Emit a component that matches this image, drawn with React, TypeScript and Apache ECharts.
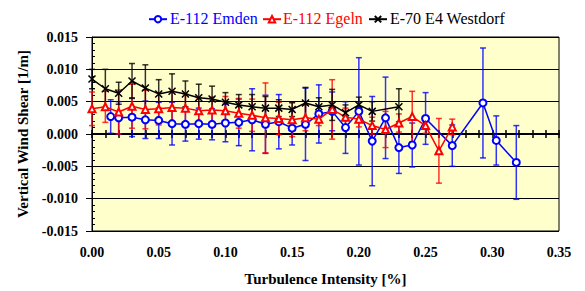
import React, { useEffect, useRef } from "react";
import * as echarts from "echarts";

const xTicks = [0, 0.05, 0.1, 0.15, 0.2, 0.25, 0.3, 0.35];
const yTicks = [-0.015, -0.01, -0.005, 0, 0.005, 0.01, 0.015];

const seriesNames = ["E-112 Emden", "E-112 Egeln", "E-70 E4 Westdorf"];

const emdenX = [0.014, 0.02, 0.03, 0.04, 0.05, 0.06, 0.07, 0.08, 0.09, 0.1, 0.11, 0.12, 0.13, 0.14, 0.15, 0.16, 0.17, 0.18, 0.19, 0.2, 0.21, 0.22, 0.23, 0.24, 0.25, 0.27, 0.293, 0.303, 0.318];
const emdenY = [0.0027, 0.0025, 0.0026, 0.0022, 0.0021, 0.0016, 0.0015, 0.0016, 0.0015, 0.0017, 0.0018, 0.0022, 0.0015, 0.0019, 0.0009, 0.0015, 0.0031, 0.0035, 0.001, 0.0035, -0.0011, 0.0025, -0.0021, -0.0017, 0.0024, -0.0018, 0.0048, -0.001, -0.0044];
const emdenErr = [0.0026, 0.0025, 0.003, 0.0029, 0.0028, 0.0033, 0.0026, 0.0024, 0.0024, 0.0029, 0.0036, 0.0048, 0.0045, 0.0042, 0.0026, 0.0056, 0.0045, 0.003, 0.004, 0.0083, 0.0069, 0.0063, 0.004, 0.0034, 0.004, 0.0032, 0.0085, 0.0038, 0.0057];

const egelnX = [0, 0.01, 0.02, 0.03, 0.04, 0.05, 0.06, 0.07, 0.08, 0.09, 0.1, 0.11, 0.12, 0.13, 0.14, 0.15, 0.16, 0.17, 0.18, 0.19, 0.2, 0.21, 0.22, 0.23, 0.24, 0.25, 0.26, 0.27];
const egelnY = [0.0039, 0.0042, 0.0034, 0.0043, 0.0038, 0.0039, 0.0041, 0.004, 0.0036, 0.0037, 0.0036, 0.0032, 0.0029, 0.0025, 0.0024, 0.0022, 0.0025, 0.0023, 0.0038, 0.0026, 0.0023, 0.0013, 0.0007, 0.0017, 0.0027, 0.0013, -0.0026, 0.0011];
const egelnErr = [0.0026, 0.0024, 0.0034, 0.0034, 0.003, 0.0025, 0.0025, 0.0022, 0.002, 0.002, 0.0022, 0.0023, 0.0025, 0.0054, 0.0025, 0.0026, 0.002, 0.001, 0.0046, 0.0014, 0.0012, 0.0013, 0.0028, 0.0014, 0.0039, 0.0012, 0.005, 0.0012];

const westdorfX = [0, 0.01, 0.02, 0.03, 0.04, 0.05, 0.06, 0.07, 0.08, 0.09, 0.1, 0.11, 0.12, 0.13, 0.14, 0.15, 0.16, 0.17, 0.18, 0.19, 0.2, 0.21, 0.23];
const westdorfY = [0.0085, 0.007, 0.0063, 0.0082, 0.0071, 0.0062, 0.0066, 0.0062, 0.0056, 0.0054, 0.0049, 0.0045, 0.0042, 0.004, 0.004, 0.0038, 0.0048, 0.0042, 0.0045, 0.0033, 0.0045, 0.0035, 0.0042];
const westdorfErr = [0.0015, 0.003, 0.0017, 0.0027, 0.0036, 0.0022, 0.0027, 0.002, 0.0021, 0.002, 0.0015, 0.0016, 0.0019, 0.0018, 0.0013, 0.0011, 0.0024, 0.0014, 0.0024, 0.0012, 0.0012, 0.0015, 0.0028];

const FONT = "Liberation Serif";

function pairs(xs: number[], ys: number[]) {
  return xs.map((x, i) => [x, ys[i]]);
}

function errorSeries(id: string, xs: number[], ys: number[], errs: number[], color: string) {
  return {
    type: "custom",
    id,
    silent: true,
    xAxisIndex: 0,
    yAxisIndex: 0,
    z: 2,
    data: xs.map((x, i) => [x, ys[i] - errs[i], ys[i] + errs[i]]),
    encode: { x: 0, y: [1, 2] },
    renderItem: (params: any, api: any) => {
      const lo = api.coord([api.value(0), api.value(1)]);
      const hi = api.coord([api.value(0), api.value(2)]);
      const w = 3;
      const style = { stroke: color, lineWidth: 1.5, opacity: 0.8 };
      return {
        type: "group",
        children: [
          { type: "line", shape: { x1: hi[0], y1: hi[1], x2: lo[0], y2: lo[1] }, style },
          { type: "line", shape: { x1: hi[0] - w, y1: hi[1], x2: hi[0] + w, y2: hi[1] }, style },
          { type: "line", shape: { x1: lo[0] - w, y1: lo[1], x2: lo[0] + w, y2: lo[1] }, style },
        ],
      };
    },
  };
}

export default function App() {
  const ref = useRef<HTMLDivElement>(null);
  useEffect(() => {
    document.body.style.margin = "0";
    if (!ref.current) return;
    const chart = echarts.init(ref.current, null, { renderer: "svg" });
    const axisCommon = {
      type: "value",
      min: 0,
      max: 0.35,
      interval: 0.05,
      splitLine: { show: false },
    };
    const makeLegend = (name: string, left: number) => ({
      top: 15,
      left,
      itemWidth: 18,
      itemHeight: 8,
      padding: 0,
      formatter: () => "",
      data: [name],
    });
    const legendLabel = (text: string, left: number, color: string) => ({
      type: "text",
      left,
      top: 10,
      silent: true,
      style: { text, fill: color, font: `16px ${FONT}`, fontFamily: FONT, fontSize: 16 },
    });
    chart.setOption({
      animation: false,
      textStyle: { fontFamily: FONT },
      grid: {
        left: 92,
        right: 26,
        top: 37,
        bottom: 60,
        show: true,
        backgroundColor: "#FFFFCC",
        borderColor: "#000",
        borderWidth: 1,
      },
      legend: [
        makeLegend(seriesNames[0], 148),
        makeLegend(seriesNames[1], 262),
        makeLegend(seriesNames[2], 368),
      ],
      graphic: [
        legendLabel(seriesNames[0], 170, "#0000FF"),
        legendLabel(seriesNames[1], 283, "#FF0000"),
        legendLabel(seriesNames[2], 390, "#000000"),
      ],
      xAxis: [
        {
          ...axisCommon,
          position: "bottom",
          axisLine: { show: false, onZero: false },
          axisTick: { show: false },
          axisLabel: {
            formatter: (v: number) => v.toFixed(2),
            fontFamily: FONT,
            fontWeight: "bold",
            fontSize: 14,
            color: "#000",
            margin: 14,
          },
          name: "Turbulence Intensity [%]",
          nameLocation: "middle",
          nameGap: 40,
          nameTextStyle: { fontFamily: FONT, fontWeight: "bold", fontSize: 15, color: "#000" },
        },
        {
          ...axisCommon,
          axisLine: { show: true, onZero: true, lineStyle: { color: "#000", width: 2 } },
          axisTick: { show: true, inside: false, length: 4, lineStyle: { color: "#000", width: 1.5 } },
          minorTick: { show: true, splitNumber: 5, length: 4, lineStyle: { color: "#000", width: 1.5 } },
          axisLabel: { show: false },
        },
        {
          ...axisCommon,
          axisLine: { show: false, onZero: true },
          axisTick: { show: true, inside: true, length: 4, lineStyle: { color: "#000", width: 1.5 } },
          minorTick: { show: true, splitNumber: 5, length: 4, lineStyle: { color: "#000", width: 1.5 } },
          axisLabel: { show: false },
        },
      ],
      yAxis: [
        {
          type: "value",
          min: -0.015,
          max: 0.015,
          interval: 0.005,
          axisLine: { show: true, onZero: false, lineStyle: { color: "#000", width: 1 } },
          axisTick: { show: true, inside: false, length: 6, lineStyle: { color: "#000" } },
          splitLine: { show: true, lineStyle: { color: "#000", width: 1 } },
          axisLabel: {
            formatter: (v: number) => v.toFixed(3),
            fontFamily: FONT,
            fontWeight: "bold",
            fontSize: 14,
            color: "#000",
            margin: 14,
          },
          name: "Vertical Wind Shear [1/m]",
          nameLocation: "middle",
          nameGap: 62,
          nameTextStyle: { fontFamily: FONT, fontWeight: "bold", fontSize: 15, color: "#000" },
        },
        {
          type: "value",
          min: -0.015,
          max: 0.015,
          interval: 0.005,
          position: "left",
          axisLine: { show: false, onZero: false },
          axisTick: { show: true, inside: true, length: 3, lineStyle: { color: "#000" } },
          minorTick: { show: true, splitNumber: 5, length: 3, lineStyle: { color: "#000" } },
          splitLine: { show: false },
          axisLabel: { show: false },
        },
      ],
      series: [
        errorSeries("errEmden", emdenX, emdenY, emdenErr, "#0000FF"),
        errorSeries("errEgeln", egelnX, egelnY, egelnErr, "#FF0000"),
        errorSeries("errWestdorf", westdorfX, westdorfY, westdorfErr, "#000000"),
        {
          type: "line",
          name: seriesNames[0],
          data: pairs(emdenX, emdenY),
          symbol: "emptyCircle",
          symbolSize: 7,
          lineStyle: { color: "#0000FF", width: 1.5 },
          itemStyle: { color: "#0000FF", borderWidth: 1.2 },
          z: 3,
        },
        {
          type: "line",
          name: seriesNames[1],
          data: pairs(egelnX, egelnY),
          symbol: "emptyTriangle",
          symbolSize: 7,
          lineStyle: { color: "#FF0000", width: 1.5 },
          itemStyle: { color: "#FF0000", borderWidth: 1.2 },
          z: 4,
        },
        {
          type: "line",
          name: seriesNames[2],
          data: pairs(westdorfX, westdorfY),
          symbol: "path://M0,0L10,10M0,10L10,0",
          symbolSize: 7,
          lineStyle: { color: "#000000", width: 1.5 },
          itemStyle: { color: "#000000", borderColor: "#000000", borderWidth: 1.5 },
          z: 5,
        },
      ],
    });
    return () => chart.dispose();
  }, []);
  return <div ref={ref} style={{ width: 585, height: 291 }} />;
}
